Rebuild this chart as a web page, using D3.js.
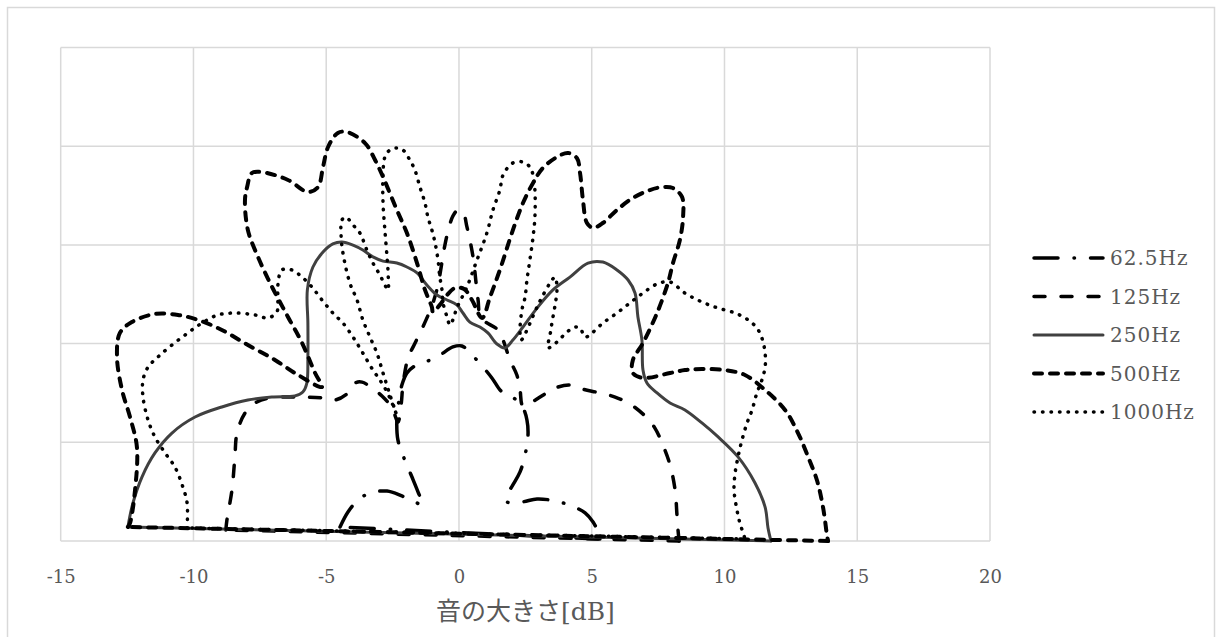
<!DOCTYPE html>
<html>
<head>
<meta charset="utf-8">
<script src="https://cdn.jsdelivr.net/npm/d3@7"></script>
<style>
  html, body { margin: 0; padding: 0; background: #fff; }
  svg { display: block; }
</style>
</head>
<body>
<svg id="chart" width="1216" height="637"></svg>
<script>
// Directivity patterns (x, y) in dB, traced from 180° (left) round to 0° (right)
const seriesNames = ["62.5Hz", "125Hz", "250Hz", "500Hz", "1000Hz"];
const xTicks = [-15, -10, -5, 0, 5, 10, 15, 20];
const yGrid = [0, 5, 10, 15, 20, 25];

const hz62 = [
  [-4.48, 0.71], [-4.18, 1.47], [-3.80, 2.08], [-3.35, 2.43], [-2.71, 2.53], [-2.15, 2.28],
  [-1.66, 1.98], [-1.36, 1.82], [-1.54, 2.48], [-1.77, 3.24], [-2.07, 4.20], [-2.30, 5.12],
  [-2.34, 6.13], [-2.26, 7.14], [-2.15, 7.90], [-1.96, 8.51], [-1.66, 8.87], [-1.17, 9.12],
  [-0.72, 9.42], [-0.23, 9.83], [0.11, 9.88], [0.49, 9.42], [0.87, 8.87], [1.24, 8.26],
  [1.62, 7.55], [2.07, 7.24], [2.41, 6.74], [2.56, 6.13], [2.60, 5.37], [2.49, 4.36],
  [2.30, 3.50], [2.03, 2.84], [1.77, 2.23], [1.81, 1.98], [2.37, 1.98], [2.94, 2.13],
  [3.62, 2.03], [4.26, 1.77], [4.75, 1.42], [5.05, 0.96], [5.24, 0.46], [5.31, 0.10]
];

const hz125 = [
  [-8.78, 0.56], [-8.74, 1.06], [-8.55, 2.58], [-8.44, 4.26], [-8.36, 5.47], [-8.06, 6.48],
  [-7.68, 6.99], [-7.19, 7.24], [-6.06, 7.29], [-5.05, 7.24], [-4.67, 7.14], [-4.18, 7.50],
  [-3.92, 8.00], [-3.65, 8.05], [-3.28, 7.75], [-2.90, 7.35], [-2.52, 6.74], [-2.30, 6.03],
  [-2.18, 6.89], [-2.11, 7.90], [-1.92, 9.27], [-1.69, 9.93], [-1.47, 10.54], [-1.24, 11.20],
  [-0.98, 12.06], [-0.79, 12.97], [-0.64, 14.13], [-0.53, 14.99], [-0.38, 15.86], [-0.23, 16.46],
  [-0.04, 16.77], [0.15, 16.67], [0.30, 15.91], [0.45, 14.99], [0.56, 14.13], [0.64, 13.12],
  [0.72, 12.21], [0.83, 11.30], [1.47, 10.69], [1.66, 10.18], [1.92, 9.17], [2.18, 8.41],
  [2.30, 7.65], [2.41, 6.84], [2.75, 7.04], [3.24, 7.45], [3.62, 7.75], [4.18, 7.90],
  [4.63, 7.70], [5.31, 7.50], [5.88, 7.29], [6.44, 6.94], [7.01, 6.33], [7.38, 5.72],
  [7.68, 4.86], [7.95, 3.85], [8.14, 2.58], [8.21, 1.32], [8.25, 0.56], [8.29, 0.00]
];

const hz250 = [
  [-12.47, 0.71], [-12.28, 1.92], [-11.94, 3.24], [-11.45, 4.46], [-10.81, 5.47], [-9.94, 6.28],
  [-8.93, 6.79], [-7.95, 7.14], [-7.04, 7.29], [-6.18, 7.35], [-5.88, 7.55], [-5.73, 8.00],
  [-5.69, 9.32], [-5.69, 11.04], [-5.71, 12.72], [-5.50, 13.88], [-5.12, 14.64], [-4.75, 15.05],
  [-4.41, 15.15], [-3.99, 14.99], [-3.62, 14.74], [-3.24, 14.39], [-2.86, 14.18], [-2.34, 14.08],
  [-1.96, 13.88], [-1.58, 13.58], [-1.21, 12.97], [-0.83, 12.46], [-0.45, 12.21], [-0.08, 11.96],
  [0.15, 11.55], [0.41, 11.09], [0.79, 10.84], [1.09, 10.54], [1.43, 9.98], [1.73, 9.78],
  [2.03, 10.18], [2.41, 10.84], [2.94, 11.80], [3.54, 12.72], [4.18, 13.37], [4.86, 14.08],
  [5.42, 14.13], [5.95, 13.73], [6.37, 13.22], [6.63, 12.56], [6.74, 11.35], [6.89, 10.18],
  [6.93, 8.66], [7.08, 8.00], [7.46, 7.50], [7.95, 6.99], [8.51, 6.64], [9.15, 5.98],
  [9.76, 5.27], [10.51, 4.26], [11.15, 2.94], [11.53, 1.72], [11.64, 0.66], [11.75, 0.00]
];

const hz500 = [
  [-12.47, 0.71], [-12.39, 0.91], [-12.20, 2.58], [-12.13, 4.76], [-12.39, 6.28], [-12.69, 7.65],
  [-12.88, 9.32], [-12.77, 10.54], [-12.32, 11.09], [-11.45, 11.50], [-10.58, 11.45], [-9.83, 11.20],
  [-8.93, 10.69], [-7.95, 9.93], [-6.93, 9.17], [-6.06, 8.41], [-5.16, 7.80], [-5.42, 8.51],
  [-5.91, 10.03], [-6.44, 11.35], [-7.04, 12.87], [-7.57, 14.39], [-7.95, 15.75], [-8.06, 17.27],
  [-7.98, 17.93], [-7.80, 18.64], [-7.42, 18.69], [-6.44, 18.29], [-5.69, 17.68], [-5.31, 17.93],
  [-5.12, 18.95], [-4.93, 19.96], [-4.56, 20.67], [-4.22, 20.72], [-3.54, 20.16], [-3.16, 19.30],
  [-2.86, 18.44], [-2.34, 16.77], [-1.96, 15.60], [-1.58, 14.08], [-1.28, 12.72], [-1.02, 11.85],
  [-0.98, 11.60], [-0.72, 11.96], [-0.45, 12.46], [-0.15, 12.82], [0.19, 12.77], [0.49, 12.21],
  [0.87, 11.30], [1.17, 12.36], [1.54, 13.73], [2.03, 15.75], [2.41, 17.12], [2.79, 18.14],
  [3.16, 18.90], [3.69, 19.45], [4.11, 19.66], [4.44, 19.40], [4.56, 18.64], [4.67, 17.27],
  [4.82, 16.11], [5.05, 15.86], [5.42, 16.11], [5.95, 16.77], [6.55, 17.38], [7.19, 17.78],
  [7.68, 17.93], [8.06, 17.88], [8.40, 17.43], [8.44, 16.41], [8.32, 15.25], [8.06, 14.08],
  [7.87, 13.07], [7.46, 11.55], [6.93, 10.03], [6.55, 9.17], [6.55, 8.51], [6.93, 8.26],
  [7.95, 8.51], [8.51, 8.66], [9.15, 8.71], [10.02, 8.66], [10.77, 8.41], [11.53, 7.65],
  [12.28, 6.64], [12.77, 5.47], [13.15, 4.26], [13.48, 3.09], [13.71, 1.72], [13.86, 0.30],
  [13.90, 0.00]
];

const hz1000 = [
  [-10.24, 0.66], [-10.24, 1.93], [-10.40, 2.74], [-10.70, 3.75], [-11.07, 4.46], [-11.45, 5.27],
  [-11.71, 6.13], [-11.90, 7.29], [-11.90, 8.16], [-11.71, 8.81], [-11.34, 9.32], [-10.81, 9.93],
  [-10.21, 10.54], [-9.68, 11.04], [-9.08, 11.45], [-8.44, 11.55], [-7.68, 11.45], [-7.19, 11.30],
  [-6.86, 11.60], [-6.82, 12.21], [-6.82, 12.97], [-6.67, 13.73], [-6.29, 13.73], [-5.91, 13.37],
  [-5.54, 12.87], [-5.16, 12.21], [-4.75, 11.55], [-4.37, 11.04], [-3.99, 10.33], [-3.62, 9.52],
  [-3.24, 8.66], [-2.98, 8.16], [-2.71, 7.55], [-2.49, 6.89], [-2.37, 6.48], [-2.60, 7.40],
  [-2.86, 8.51], [-3.09, 9.52], [-3.35, 10.33], [-3.62, 11.20], [-3.84, 12.21], [-4.11, 13.07],
  [-4.37, 14.59], [-4.44, 15.50], [-4.41, 16.26], [-4.26, 16.41], [-3.99, 16.01], [-3.73, 15.60],
  [-3.47, 14.74], [-3.24, 14.08], [-2.98, 13.48], [-2.75, 12.87], [-2.67, 12.72], [-2.67, 13.58],
  [-2.71, 14.39], [-2.79, 15.75], [-2.86, 17.12], [-2.86, 18.64], [-2.79, 19.45], [-2.60, 19.81],
  [-2.34, 19.91], [-2.11, 19.81], [-1.85, 19.30], [-1.66, 18.79], [-1.47, 17.93], [-1.28, 17.12],
  [-1.17, 16.41], [-1.02, 15.75], [-0.90, 15.10], [-0.79, 14.24], [-0.72, 13.37], [-0.64, 12.72],
  [-0.60, 12.06], [-0.45, 11.35], [-0.34, 10.94], [-0.23, 11.20], [-0.08, 11.80], [0.30, 12.87],
  [0.68, 14.24], [1.05, 15.60], [1.28, 16.77], [1.54, 17.78], [1.66, 18.54], [2.03, 19.15],
  [2.41, 19.20], [2.67, 18.95], [2.79, 18.54], [2.86, 17.78], [2.86, 16.41], [2.79, 15.40],
  [2.67, 14.24], [2.56, 13.22], [2.49, 12.36], [2.37, 11.70], [2.30, 10.69], [2.34, 10.18],
  [2.94, 11.85], [3.13, 12.36], [3.43, 13.07], [3.62, 13.37], [3.69, 12.72], [3.62, 11.96],
  [3.50, 11.04], [3.43, 10.44], [3.35, 9.78], [3.69, 10.08], [4.07, 10.59], [4.37, 10.84],
  [4.56, 10.79], [4.75, 10.33], [5.01, 10.54], [5.42, 11.04], [5.95, 11.55], [6.44, 12.06],
  [6.93, 12.56], [7.46, 13.02], [7.95, 13.12], [8.51, 12.56], [9.15, 12.11], [9.76, 11.80],
  [10.40, 11.55], [10.89, 11.20], [11.22, 10.79], [11.41, 10.28], [11.53, 9.52], [11.53, 8.81],
  [11.41, 8.16], [11.22, 7.50], [11.04, 6.64], [10.85, 5.98], [10.66, 5.12], [10.51, 4.26],
  [10.40, 3.44], [10.36, 2.58], [10.47, 1.57], [10.58, 0.91], [10.73, 0.30], [10.77, 0.10]
];

const seriesData = [hz62, hz125, hz250, hz500, hz1000];

// Stroke styles per series
const styles = [
  { color: "#000", width: 3.5, dash: "24,16,0.5,16", cap: "round" },
  { color: "#000", width: 3.5, dash: "11,16", cap: "round" },
  { color: "#404040", width: 3, dash: null, cap: "round" },
  { color: "#000", width: 4, dash: "8,8", cap: "round" },
  { color: "#000", width: 3.5, dash: "0.5,8", cap: "round" }
];

const svg = d3.select("#chart");

// Outer chart frame
svg.append("rect")
  .attr("x", 7.5).attr("y", 7.5)
  .attr("width", 1207).attr("height", 650)
  .attr("fill", "#fff").attr("stroke", "#d9d9d9").attr("stroke-width", 1.5);

const plot = { left: 60.7, right: 990, top: 47.5, bottom: 541 };

const x = d3.scaleLinear().domain([-15, 20]).range([plot.left, plot.right]);
const y = d3.scaleLinear().domain([0, 25]).range([plot.bottom, plot.top]);

// Grid
const grid = svg.append("g").attr("stroke", "#d9d9d9").attr("stroke-width", 1.5);
grid.selectAll("line.v").data(xTicks).join("line")
  .attr("x1", d => x(d)).attr("x2", d => x(d))
  .attr("y1", plot.top).attr("y2", plot.bottom);
grid.selectAll("line.h").data(yGrid).join("line")
  .attr("x1", plot.left).attr("x2", plot.right)
  .attr("y1", d => y(d)).attr("y2", d => y(d));

// X tick labels
const xAxis = d3.axisBottom(x).tickValues(xTicks).tickSize(0).tickPadding(29)
  .tickFormat(d => String(d));
const gx = svg.append("g").attr("transform", `translate(0,${plot.bottom})`).call(xAxis);
gx.select(".domain").remove();
gx.selectAll("text")
  .attr("font-family", "'DejaVu Serif', 'Liberation Serif', serif")
  .attr("font-size", 18)
  .attr("fill", "#595959");

// Axis title
svg.append("text")
  .attr("x", (plot.left + plot.right) / 2)
  .attr("y", 620)
  .attr("text-anchor", "middle")
  .attr("font-family", "'DejaVu Serif', 'Noto Sans CJK JP', serif")
  .attr("font-size", 25)
  .attr("fill", "#595959")
  .text("音の大きさ[dB]");

// Curves
const curve = d3.line().x(d => x(d[0])).y(d => y(d[1])).curve(d3.curveCatmullRom.alpha(0.5));
const straight = d3.line().x(d => x(d[0])).y(d => y(d[1]));

const lines = svg.append("g").attr("fill", "none").attr("stroke-linejoin", "round");
seriesData.forEach((pts, i) => {
  const s = styles[i];
  const g = lines.append("g")
    .attr("stroke", s.color)
    .attr("stroke-width", s.width)
    .attr("stroke-linecap", s.cap)
    .attr("stroke-dasharray", s.dash);
  g.append("path").attr("d", curve(pts));
  // closing chord along the base from the 0° end back to the 180° end
  g.append("path").attr("d", straight([pts[pts.length - 1], pts[0]]));
});

// Legend
const legend = svg.append("g").attr("transform", "translate(1034,258)");
seriesNames.forEach((name, i) => {
  const s = styles[i];
  const row = legend.append("g").attr("transform", `translate(0,${i * 38.5})`);
  row.append("line")
    .attr("x1", 0).attr("x2", 69).attr("y1", 0).attr("y2", 0)
    .attr("stroke", s.color).attr("stroke-width", s.width)
    .attr("stroke-linecap", s.cap).attr("stroke-dasharray", s.dash);
  row.append("text")
    .attr("x", 76).attr("y", 0).attr("dy", "0.35em")
    .attr("font-family", "'DejaVu Serif', 'Liberation Serif', serif")
    .attr("font-size", 20)
    .attr("letter-spacing", 1)
    .attr("fill", "#595959")
    .text(name);
});
</script>
</body>
</html>
